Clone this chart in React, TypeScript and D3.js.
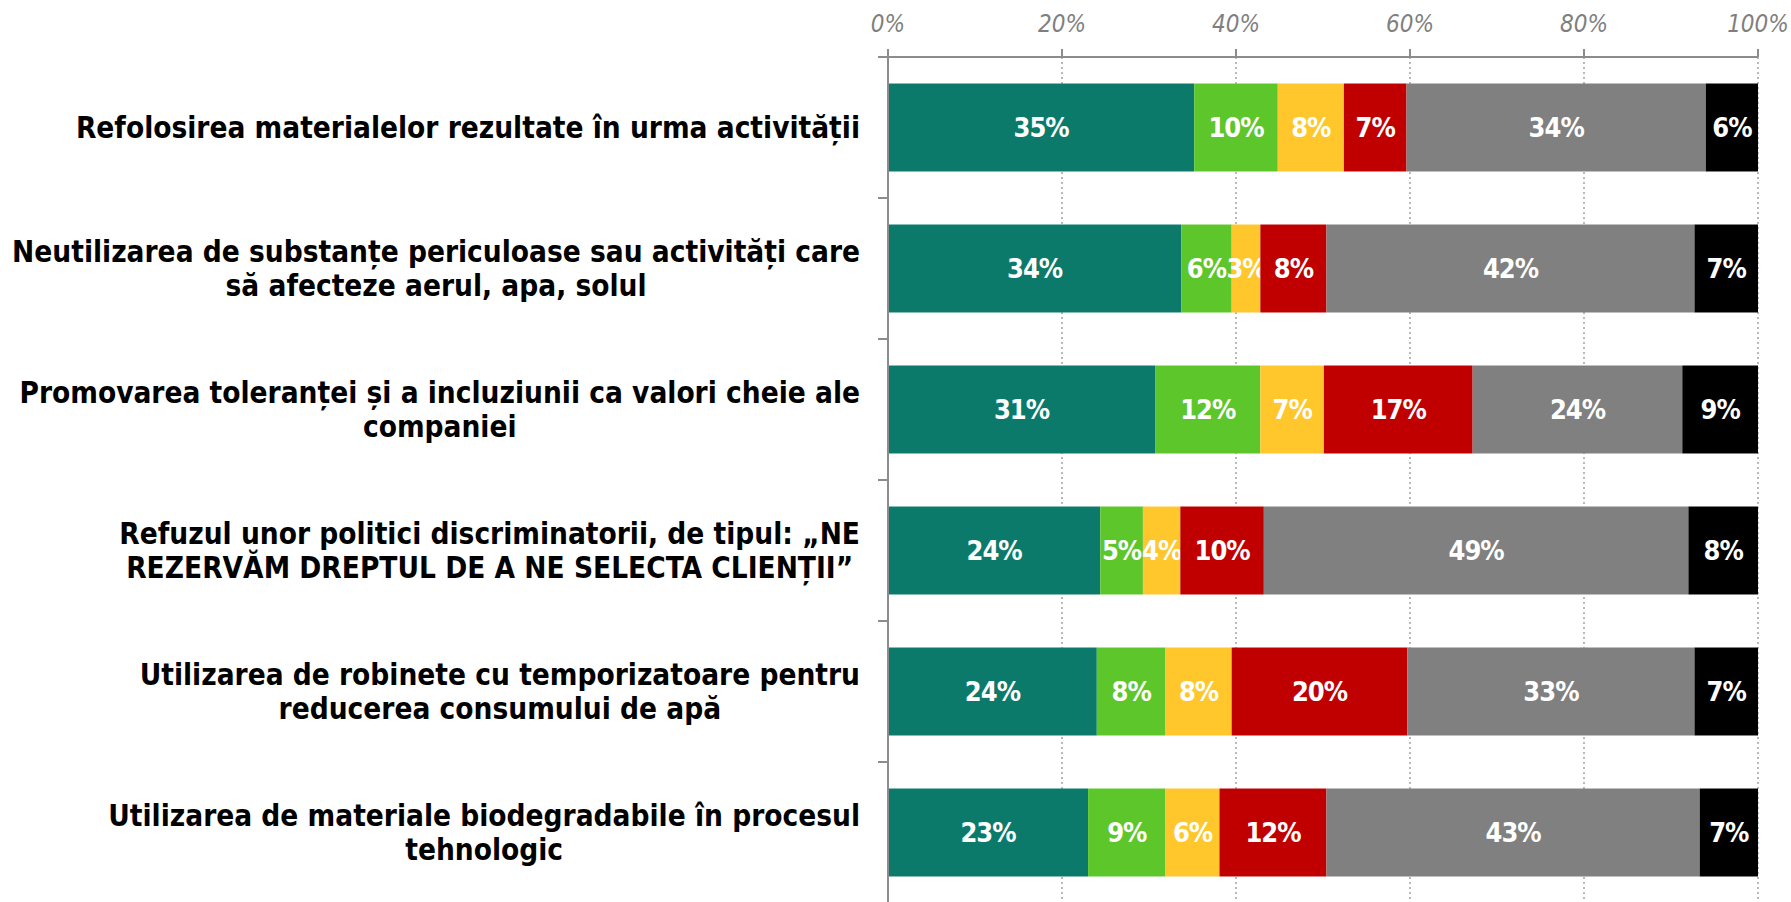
import React, { useEffect, useRef } from "react";
import * as d3 from "d3";

const categories = [
  ["Refolosirea materialelor rezultate în urma activității"],
  ["Neutilizarea de substanțe periculoase sau activități care", "să afecteze aerul, apa, solul"],
  ["Promovarea toleranței și a incluziunii ca valori cheie ale", "companiei"],
  ["Refuzul unor politici discriminatorii, de tipul: „NE", "REZERVĂM DREPTUL DE A NE SELECTA CLIENȚII”"],
  ["Utilizarea de robinete cu temporizatoare pentru", "reducerea consumului de apă"],
  ["Utilizarea de materiale biodegradabile în procesul", "tehnologic"],
];

// one array per answer segment, one value per category (percent)
const s1 = [35.2, 33.7, 30.7, 24.4, 24.0, 23.0];
const s2 = [9.6, 5.8, 12.1, 4.9, 7.9, 8.9];
const s3 = [7.6, 3.3, 7.3, 4.3, 7.6, 6.2];
const s4 = [7.2, 7.6, 17.1, 9.6, 20.2, 12.3];
const s5 = [34.4, 42.3, 24.1, 48.8, 33.0, 42.9];
const s6 = [6.0, 7.3, 8.7, 8.0, 7.3, 6.7];
const seriesValues = [s1, s2, s3, s4, s5, s6];
const seriesColors = ["#0b7a6b", "#5dc62b", "#ffc72c", "#c00000", "#808080", "#000000"];
const tickValues = [0, 20, 40, 60, 80, 100];

const W = 1791;
const H = 902;
const left = 888;
const right = 1758;
const top = 57;
const bottom = 903;

export default function App() {
  const ref = useRef<SVGSVGElement | null>(null);

  useEffect(() => {
    document.body.style.margin = "0";
    const svg = d3.select(ref.current);
    svg.selectAll("*").remove();

    const x = d3.scaleLinear().domain([0, 100]).range([left, right]);
    const y = d3
      .scaleBand<number>()
      .domain(d3.range(categories.length))
      .range([top, bottom])
      .paddingInner(0.376)
      .paddingOuter(0.188);

    // gridlines
    svg
      .append("g")
      .selectAll("line")
      .data(tickValues.slice(1))
      .join("line")
      .attr("x1", (d) => x(d))
      .attr("x2", (d) => x(d))
      .attr("y1", top)
      .attr("y2", H)
      .attr("stroke", "#8c8c8c")
      .attr("stroke-width", 1.2)
      .attr("stroke-dasharray", "2,3");

    // stacked bars
    const rows = svg
      .append("g")
      .selectAll("g")
      .data(categories.map((_, i) => i))
      .join("g");

    rows.each(function (ci) {
      const g = d3.select(this);
      let acc = 0;
      seriesValues.forEach((vals, si) => {
        const v = vals[ci];
        const x0 = x(acc);
        const x1 = x(acc + v);
        acc += v;
        g.append("rect")
          .attr("x", x0)
          .attr("y", y(ci)!)
          .attr("width", x1 - x0)
          .attr("height", y.bandwidth())
          .attr("fill", seriesColors[si]);
        g.append("text")
          .attr("x", (x0 + x1) / 2)
          .attr("y", y(ci)! + y.bandwidth() / 2)
          .attr("dy", "0.36em")
          .attr("text-anchor", "middle")
          .attr("fill", "#fff")
          .attr("font-family", "'DejaVu Sans Condensed', sans-serif")
          .attr("font-weight", "bold")
          .attr("font-size", 27)
          .attr("letter-spacing", -1)
          .text(Math.round(v) + "%");
      });
    });

    // top axis
    const ax = svg.append("g");
    ax.append("line")
      .attr("x1", left - 10)
      .attr("x2", right)
      .attr("y1", top)
      .attr("y2", top)
      .attr("stroke", "#8c8c8c")
      .attr("stroke-width", 2);
    ax.selectAll("line.tk")
      .data(tickValues)
      .join("line")
      .attr("class", "tk")
      .attr("x1", (d) => x(d))
      .attr("x2", (d) => x(d))
      .attr("y1", top - 8)
      .attr("y2", top)
      .attr("stroke", "#8c8c8c")
      .attr("stroke-width", 2);
    ax.selectAll("text")
      .data(tickValues)
      .join("text")
      .attr("x", (d) => x(d))
      .attr("y", 23)
      .attr("dy", "0.36em")
      .attr("text-anchor", "middle")
      .attr("fill", "#7f7f7f")
      .attr("font-style", "italic")
      .attr("font-family", "'DejaVu Sans Condensed', sans-serif")
      .attr("font-size", 24)
      .text((d) => d + "%");

    // left axis
    svg
      .append("line")
      .attr("x1", left)
      .attr("x2", left)
      .attr("y1", top)
      .attr("y2", H)
      .attr("stroke", "#8c8c8c")
      .attr("stroke-width", 2);
    svg
      .append("g")
      .selectAll("line")
      .data(d3.range(1, categories.length))
      .join("line")
      .attr("x1", left - 10)
      .attr("x2", left)
      .attr("y1", (d) => top + y.step() * d)
      .attr("y2", (d) => top + y.step() * d)
      .attr("stroke", "#8c8c8c")
      .attr("stroke-width", 2);

    // category labels: first line right aligned, next lines centred under it
    const labelRight = 860;
    const lineH = 34;
    const fs = 29.5;
    categories.forEach((lines, ci) => {
      const cy = y(ci)! + y.bandwidth() / 2;
      const y0 = cy - ((lines.length - 1) * lineH) / 2;
      const first = svg
        .append("text")
        .attr("x", labelRight)
        .attr("y", y0)
        .attr("dy", "0.36em")
        .attr("text-anchor", "end")
        .attr("font-family", "'DejaVu Sans Condensed', sans-serif")
        .attr("font-weight", "bold")
        .attr("font-size", fs)
        .attr("fill", "#000")
        .text(lines[0]);
      const w = (first.node() as SVGTextElement).getComputedTextLength();
      lines.slice(1).forEach((ln, li) => {
        svg
          .append("text")
          .attr("x", labelRight - w / 2)
          .attr("y", y0 + lineH * (li + 1))
          .attr("dy", "0.36em")
          .attr("text-anchor", "middle")
          .attr("font-family", "'DejaVu Sans Condensed', sans-serif")
          .attr("font-weight", "bold")
          .attr("font-size", fs)
          .attr("fill", "#000")
          .text(ln);
      });
    });
  }, []);

  return <svg ref={ref} width={W} height={H} style={{ display: "block", background: "#fff" }} />;
}
